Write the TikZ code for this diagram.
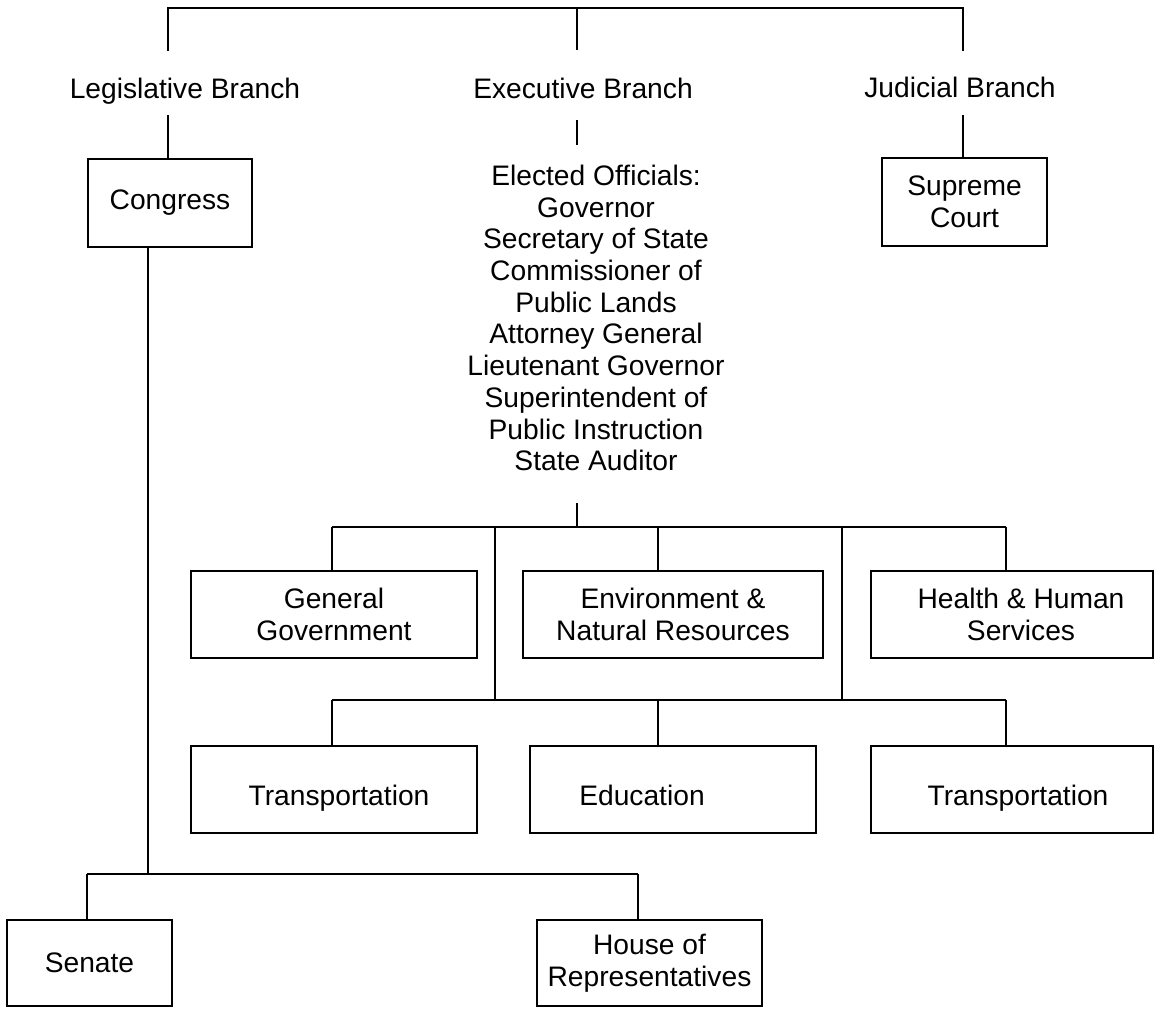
\documentclass[tikz,border=0pt]{standalone}
\usepackage{fontspec}
\setmainfont{Liberation Sans}
% single-line box text, set a little below the box centre
\newcommand{\sinktext}[1]{\raisebox{-7.5pt}[22pt][6pt]{#1}}
\begin{document}
\begin{tikzpicture}[x=1pt,y=-1pt,
  every node/.style={font=\fontsize{28.2}{32}\selectfont, inner sep=0pt},
  box/.style={draw=black, line width=2.8pt, align=center, minimum height=87pt},
  conn/.style={draw=black, line width=2pt},
  lbl/.style={align=center}]
  % page
  \fill[white] (0,0) rectangle (1155,1009);
  \useasboundingbox (0,0) rectangle (1155,1009);

  % branch headings
  \node[lbl, anchor=base] (leg) at (185,98) {Legislative Branch};
  \node[lbl, anchor=base] (exe) at (583,98) {Executive Branch};
  \node[lbl, anchor=base] (jud) at (960,97) {Judicial Branch};

  % top bracket joining the three branches
  \coordinate (legA) at (168,51);
  \coordinate (exeA) at (577,50);
  \coordinate (judA) at (963,51);
  \coordinate (topM) at (577,8);
  \draw[conn] (legA) |- (topM) -| (judA);
  \draw[conn] (topM) -- (exeA);

  % legislative and judicial bodies
  \node[box, minimum width=164pt, minimum height=88pt] (congress) at (170,203) {Congress};
  \node[box, minimum width=165pt, minimum height=88pt] (court) at (964.5,202) {\raisebox{-3pt}{Supreme}\\\raisebox{-3pt}{Court}};
  \coordinate (legB) at (168,115);
  \coordinate (judB) at (963,115);
  \draw[conn] (legB) -- (legB |- congress.north);
  \draw[conn] (judB) -- (judB |- court.north);

  % executive officials
  \node[lbl, font=\fontsize{28.2}{31.7}\selectfont] (officials) at (596,318)
    {Elected Officials:\\Governor\\Secretary of State\\Commissioner of\\Public Lands\\Attorney General\\Lieutenant Governor\\Superintendent of\\Public Instruction\\State Auditor};
  \coordinate (exeB) at (577,120);
  \coordinate (exeC) at (577,145);
  \draw[conn] (exeB) -- (exeC);

  % departments, first row
  \node[box, minimum width=286pt] (gengov) at (334,614.5) {General\\Government};
  \node[box, minimum width=300pt] (env) at (673,614.5) {Environment \&\\Natural Resources};
  \node[box, minimum width=282pt] (health) at (1012,614.5) {\hspace*{18pt}Health \& Human\\\hspace*{18pt}Services};

  % departments, second row
  \node[box, minimum width=286pt] (transA) at (334,789.5) {\sinktext{\hspace*{10pt}Transportation}};
  \node[box, minimum width=286pt] (edu) at (673,789.5) {\sinktext{Education\hspace*{62pt}}};
  \node[box, minimum width=282pt] (transB) at (1012,789.5) {\sinktext{\hspace*{12pt}Transportation}};

  % executive bus lines
  \coordinate (offA) at (577,503);
  \coordinate (busA) at (577,527);
  \coordinate (b1L) at (332,527);
  \coordinate (b1E) at (658,527);
  \coordinate (b1R) at (1006,527);
  \coordinate (b1a) at (495,527);
  \coordinate (b1b) at (842,527);
  \coordinate (b2L) at (332,700);
  \coordinate (b2E) at (658,700);
  \coordinate (b2R) at (1006,700);
  \draw[conn] (offA) -- (busA);
  \draw[conn] (b1L) -- (b1R);
  \draw[conn] (b1L) -- (b1L |- gengov.north);
  \draw[conn] (b1E) -- (b1E |- env.north);
  \draw[conn] (b1R) -- (b1R |- health.north);
  \draw[conn] (b1a) -- (b1a |- b2L);
  \draw[conn] (b1b) -- (b1b |- b2L);
  \draw[conn] (b2L) -- (b2R);
  \draw[conn] (b2L) -- (b2L |- transA.north);
  \draw[conn] (b2E) -- (b2E |- edu.north);
  \draw[conn] (b2R) -- (b2R |- transB.north);

  % chambers of congress
  \node[box, minimum width=165pt, minimum height=86pt] (senate) at (89.5,963) {Senate};
  \node[box, minimum width=225pt, minimum height=86pt] (house) at (649.5,963) {House of\\Representatives};
  \coordinate (b3C) at (148,874);
  \coordinate (b3L) at (87,874);
  \coordinate (b3R) at (638,874);
  \draw[conn] (congress.south -| b3C) -- (b3C);
  \draw[conn] (b3L) -- (b3R);
  \draw[conn] (b3L) -- (b3L |- senate.north);
  \draw[conn] (b3R) -- (b3R |- house.north);
\end{tikzpicture}
\end{document}
